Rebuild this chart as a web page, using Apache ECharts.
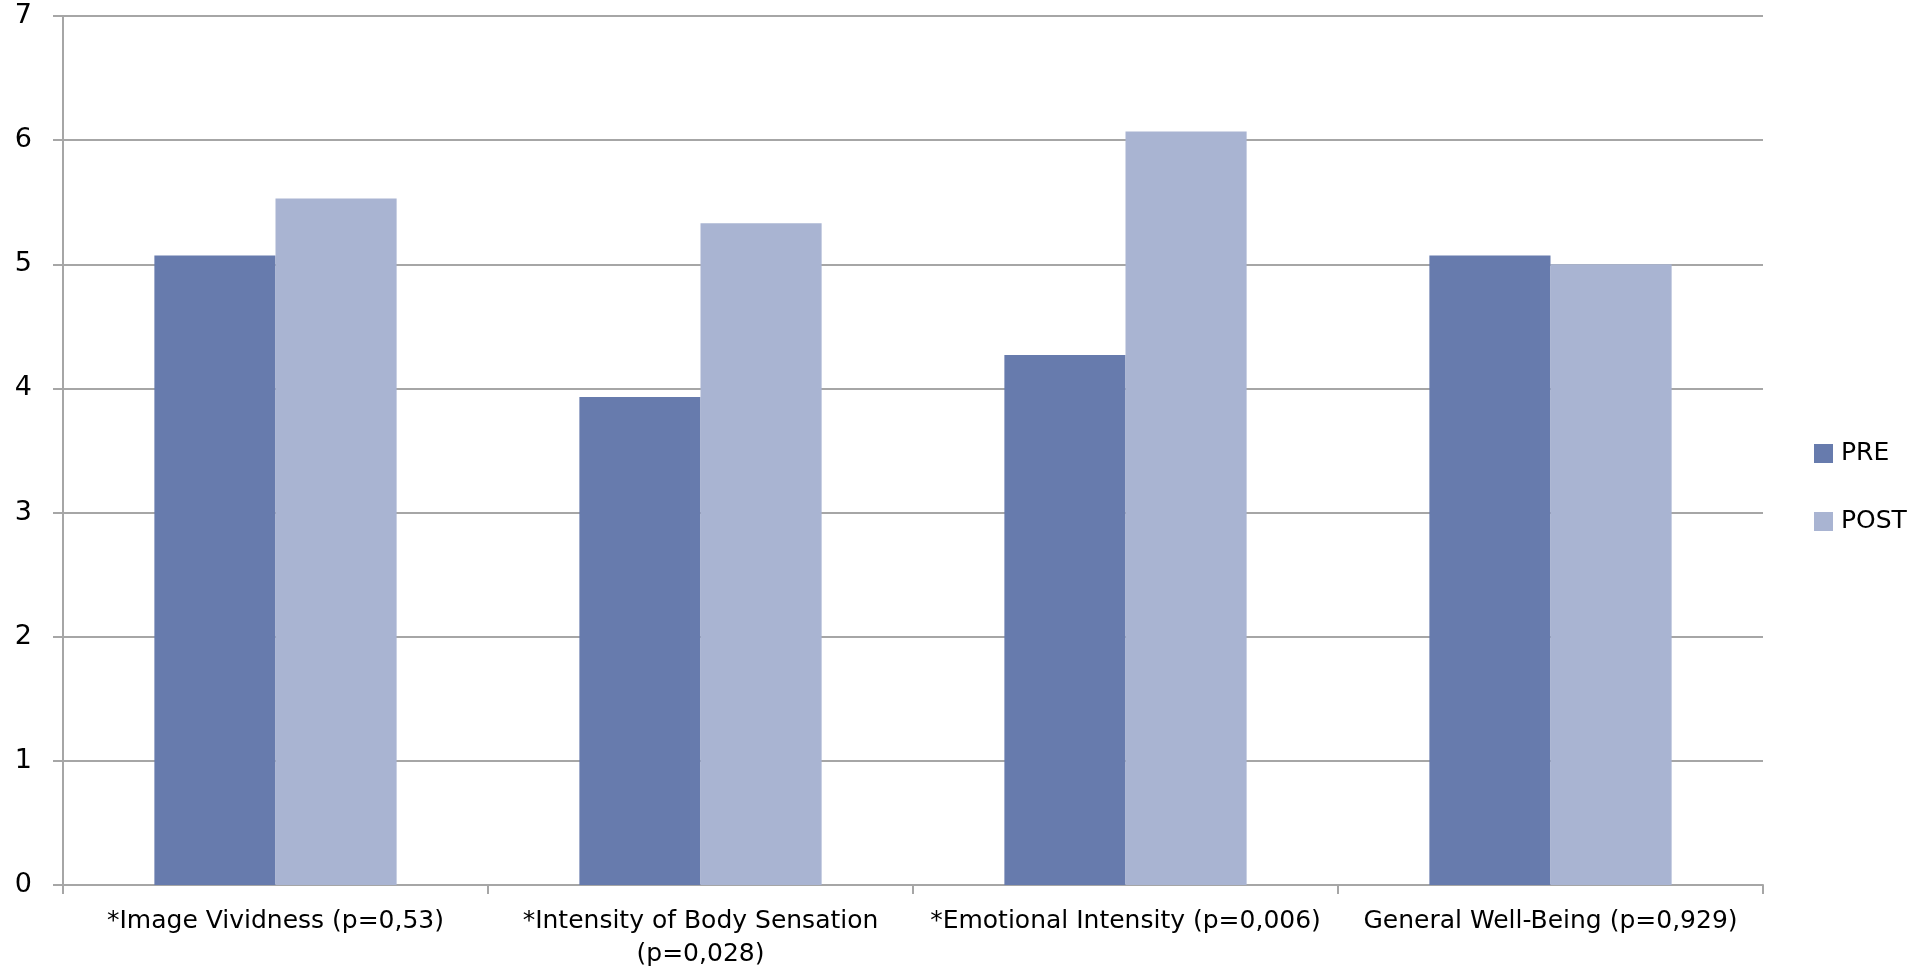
<!DOCTYPE html>
<html>
<head>
<meta charset="utf-8">
<script src="https://cdn.jsdelivr.net/npm/echarts@6/dist/echarts.min.js"></script>
<style>
  html, body { margin: 0; padding: 0; background: #fff; }
  #chart { width: 1921px; height: 972px; }
</style>
</head>
<body>
<div id="chart"></div>
<script>
// Mean scores before and after, per measure
const categories = [
  '*Image Vividness (p=0,53)',
  '*Intensity of Body Sensation\n(p=0,028)',
  '*Emotional Intensity (p=0,006)',
  'General Well-Being (p=0,929)'
];
const preValues = [5.07, 3.93, 4.27, 5.07];
const postValues = [5.53, 5.33, 6.07, 5.0];
const seriesNames = ['PRE', 'POST'];
const yTicks = { min: 0, max: 7, interval: 1 };

const gridColor = '#a6a6a6';
const font = '"DejaVu Sans", sans-serif';

const chart = echarts.init(document.getElementById('chart'), null, { renderer: 'canvas' });
chart.setOption({
  animation: false,
  backgroundColor: '#fff',
  grid: { left: 63, right: 158, top: 16, bottom: 87, containLabel: false },
  legend: {
    orient: 'vertical',
    left: 1814,
    top: 441,
    padding: 0,
    itemWidth: 19,
    itemHeight: 19,
    itemGap: 43,
    icon: 'rect',
    textStyle: { fontFamily: font, fontSize: 25, color: '#000', padding: [0, 0, 0, 3] },
    data: seriesNames
  },
  xAxis: {
    type: 'category',
    data: categories,
    axisLine: { lineStyle: { color: gridColor, width: 2 } },
    axisTick: { show: true, length: 9, lineStyle: { color: gridColor, width: 2 } },
    axisLabel: {
      interval: 0,
      margin: 20,
      fontFamily: font,
      fontSize: 25,
      lineHeight: 33,
      color: '#000'
    }
  },
  yAxis: {
    type: 'value',
    min: yTicks.min,
    max: yTicks.max,
    interval: yTicks.interval,
    axisLine: { show: true, lineStyle: { color: gridColor, width: 2 } },
    axisTick: { show: true, length: 10, lineStyle: { color: gridColor, width: 2 } },
    splitLine: { lineStyle: { color: gridColor, width: 2 } },
    axisLabel: { margin: 31, fontFamily: font, fontSize: 27, color: '#000' }
  },
  series: [
    {
      name: seriesNames[0],
      type: 'bar',
      data: preValues,
      barWidth: '28.5%',
      barGap: '0%',
      itemStyle: { color: '#677bad' }
    },
    {
      name: seriesNames[1],
      type: 'bar',
      data: postValues,
      barWidth: '28.5%',
      barGap: '0%',
      itemStyle: { color: '#a9b4d2' }
    }
  ]
});
</script>
</body>
</html>
